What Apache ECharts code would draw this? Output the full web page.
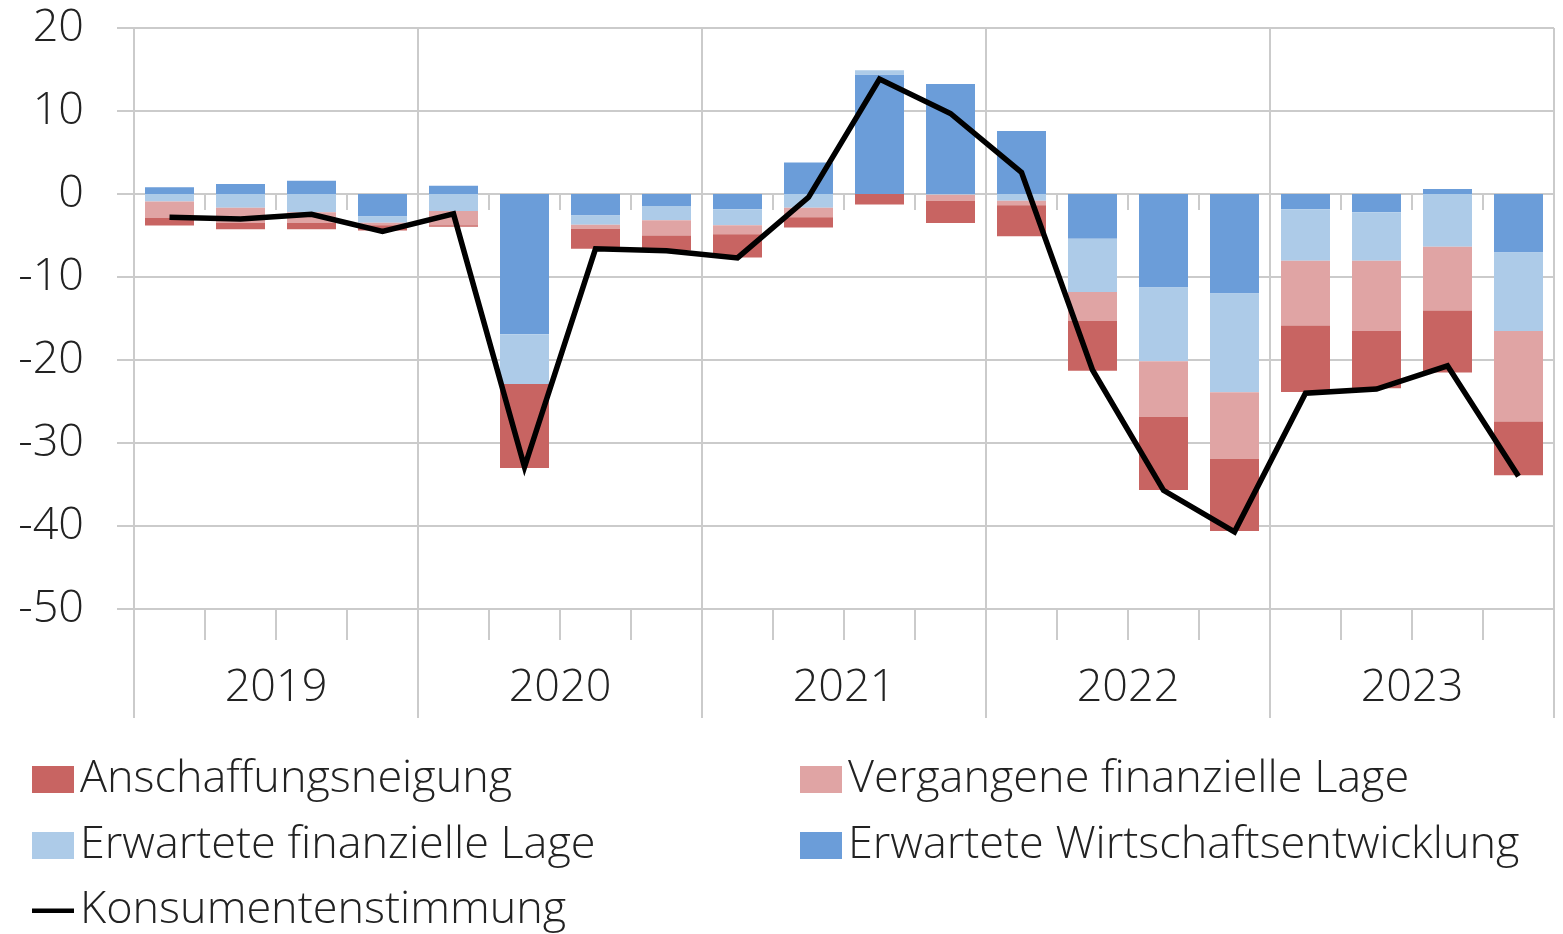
<!DOCTYPE html>
<html>
<head>
<meta charset="utf-8">
<script src="https://cdn.jsdelivr.net/npm/echarts/dist/echarts.min.js"></script>
<style>
html, body { margin: 0; padding: 0; background: #fff; }
#chart { width: 1563px; height: 934px; }
</style>
</head>
<body>
<div id="chart"></div>
<script>
const quarters = ['2019 Q1', '2019 Q2', '2019 Q3', '2019 Q4', '2020 Q1', '2020 Q2', '2020 Q3', '2020 Q4',
	'2021 Q1', '2021 Q2', '2021 Q3', '2021 Q4', '2022 Q1', '2022 Q2', '2022 Q3', '2022 Q4',
	'2023 Q1', '2023 Q2', '2023 Q3', '2023 Q4']
const years = ['2019', '2020', '2021', '2022', '2023']
const yTicks = { min: -50, max: 20, step: 10 }

// stacked from zero outward: Wirtschaft, erwartete Lage, vergangene Lage, Anschaffung
const wirtschaft = [0.8, 1.2, 1.6, -2.7, 1.0, -16.9, -2.6, -1.45, -1.85, 3.8, 14.4, 13.25, 7.6, -5.4, -11.25, -12.0, -1.85, -2.2, 0.6, -7.05]
const erwarteteLage = [-0.9, -1.65, -2.2, -0.75, -2.05, -6.0, -1.1, -1.7, -1.9, -1.65, 0.5, -0.1, -0.8, -6.4, -8.9, -11.9, -6.2, -5.85, -6.35, -9.45]
const vergangeneLage = [-2.0, -1.85, -1.3, -0.3, -1.7, 0, -0.5, -1.85, -1.1, -1.15, 0, -0.7, -0.55, -3.5, -6.7, -8.0, -7.8, -8.45, -7.7, -10.9]
const anschaffung = [-0.9, -0.75, -0.75, -0.65, -0.2, -10.1, -2.4, -1.8, -2.8, -1.25, -1.25, -2.7, -3.75, -6.0, -8.8, -8.7, -8.0, -6.9, -7.45, -6.5]
const stimmung = [-2.8, -3.0, -2.45, -4.5, -2.4, -32.9, -6.6, -6.85, -7.7, -0.4, 13.85, 9.7, 2.6, -21.2, -35.7, -40.7, -24.0, -23.5, -20.7, -34.0]

const font = "'Open Sans', sans-serif"
const gridColor = '#cbcbcb'
const textColor = '#222'

function barSeries(name, data, color) {
	return {
		name: name,
		type: 'bar',
		stack: 'total',
		xAxisIndex: 0,
		barWidth: 49,
		itemStyle: { color: color },
		data: data,
	}
}

const legendBase = {
	orient: 'vertical',
	top: 757,
	padding: 0,
	itemWidth: 42,
	itemHeight: 27,
	itemGap: 21,
	textStyle: { fontFamily: font, fontWeight: 300, fontSize: 45, lineHeight: 45, color: textColor, padding: [0, 0, 0, 1] },
}

const option = {
	animation: false,
	backgroundColor: '#fff',
	grid: { left: 134, right: 9, top: 28, bottom: 325 },
	legend: [
		Object.assign({}, legendBase, {
			left: 32,
			data: [
				{ name: 'Anschaffungsneigung', icon: 'rect' },
				{ name: 'Erwartete finanzielle Lage', icon: 'rect' },
			],
		}),
		Object.assign({}, legendBase, {
			left: 32,
			top: 888,
			data: [
				{ name: 'Konsumentenstimmung', icon: 'path://M0,0 M0,11.5 L44,11.5 L44,16 L0,16 Z M44,27' },
			],
		}),
		Object.assign({}, legendBase, {
			left: 800,
			data: [
				{ name: 'Vergangene finanzielle Lage', icon: 'rect' },
				{ name: 'Erwartete Wirtschaftsentwicklung', icon: 'rect' },
			],
		}),
	],
	xAxis: [
		{
			// quarter ticks along the zero line
			type: 'category',
			data: quarters,
			position: 'bottom',
			axisLine: { show: true, onZero: true, lineStyle: { color: gridColor, width: 2 } },
			axisTick: { show: true, interval: 0, length: 16, lineStyle: { color: gridColor, width: 2 } },
			axisLabel: { show: false },
			splitLine: { show: false },
		},
		{
			// quarter boxes under the plot
			type: 'category',
			data: quarters,
			position: 'bottom',
			axisLine: { show: true, onZero: false, lineStyle: { color: gridColor, width: 2 } },
			axisTick: { show: true, interval: 0, length: 31, lineStyle: { color: gridColor, width: 2 } },
			axisLabel: { show: false },
			splitLine: { show: false },
		},
		{
			// years
			type: 'category',
			data: years,
			position: 'bottom',
			axisLine: { show: false, onZero: false },
			axisTick: { show: true, interval: 0, length: 109, lineStyle: { color: gridColor, width: 2 } },
			axisLabel: { fontFamily: font, fontWeight: 300, fontSize: 45, lineHeight: 45, color: textColor, margin: 57 },
			splitLine: { show: true, interval: 0, lineStyle: { color: gridColor, width: 2 } },
		},
	],
	yAxis: {
		type: 'value',
		min: yTicks.min,
		max: yTicks.max,
		interval: yTicks.step,
		axisLine: { show: true, lineStyle: { color: gridColor, width: 2 } },
		axisTick: { show: true, length: 17, lineStyle: { color: gridColor, width: 2 } },
		axisLabel: { fontFamily: font, fontWeight: 300, fontSize: 45, color: textColor, margin: 50 },
		splitLine: { show: true, lineStyle: { color: gridColor, width: 2 } },
	},
	series: [
		barSeries('Erwartete Wirtschaftsentwicklung', wirtschaft, '#6b9dd9'),
		barSeries('Erwartete finanzielle Lage', erwarteteLage, '#adcbe8'),
		barSeries('Vergangene finanzielle Lage', vergangeneLage, '#e0a4a4'),
		barSeries('Anschaffungsneigung', anschaffung, '#c86462'),
		{
			name: 'Konsumentenstimmung',
			type: 'line',
			xAxisIndex: 0,
			symbol: 'none',
			z: 5,
			itemStyle: { color: '#000' },
			lineStyle: { color: '#000', width: 5.5, join: 'miter' },
			data: stimmung,
		},
	],
}

const myChart = echarts.init(document.getElementById('chart'))
myChart.setOption(option)
</script>
</body>
</html>
